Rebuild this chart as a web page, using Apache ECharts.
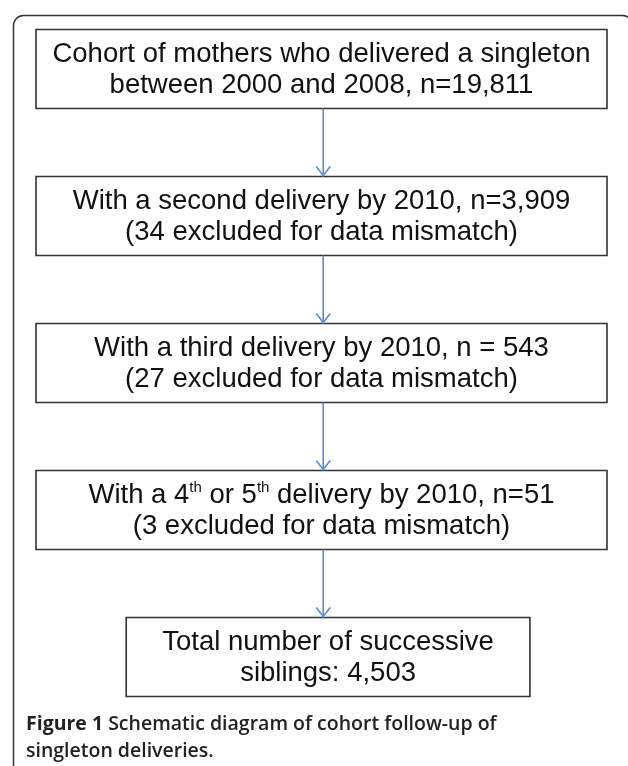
<!DOCTYPE html>
<html>
<head>
<meta charset="utf-8">
<script src="https://cdn.jsdelivr.net/npm/echarts@6/dist/echarts.min.js"></script>
<style>
html,body{margin:0;padding:0;background:#fff;}
#main{width:628px;height:766px;}
</style>
</head>
<body>
<div id="main"></div>
<script>
// ---- data ----
const stepNames = ['Cohort', 'Second delivery', 'Third delivery', 'Fourth or fifth delivery', 'Total'];
const stepLine1 = [
  'Cohort of mothers who delivered a singleton',
  'With a second delivery by 2010, n=3,909',
  'With a third delivery by 2010, n = 543',
  'With a 4{sup|th} or 5{sup|th} delivery by 2010, n=51',
  'Total number of successive'
];
const stepLine2 = [
  'between 2000 and 2008, n=19,811',
  '(34 excluded for data mismatch)',
  '(27 excluded for data mismatch)',
  '(3 excluded for data mismatch)',
  'siblings: 4,503'
];
const captionBold = 'Figure 1';
const captionText = ' Schematic diagram of cohort follow-up of\nsingleton deliveries.';

// ---- chart ----
const chart = echarts.init(document.getElementById('main'), null, {renderer: 'canvas'});
const BOX_H = 79;
const ARROW_X = 50.3;
const ARROW_COLOR = '#5b8bd2';

function renderItem(params, api) {
  const idx = params.dataIndex;
  const last = idx === stepNames.length - 1;
  const x0 = last ? 15.8 : 0;
  const x1 = last ? 86.5 : 100;
  const pL = api.coord([x0, idx]);
  const pR = api.coord([x1, idx]);
  const yc = pL[1];
  const left = pL[0], right = pR[0];
  const children = [
    {
      type: 'rect',
      shape: {x: left, y: yc - BOX_H / 2, width: right - left, height: BOX_H},
      style: {fill: '#fff', stroke: '#333', lineWidth: 1.6}
    },
    {
      type: 'text',
      x: (left + right) / 2,
      y: yc + 1,
      style: {
        text: stepLine1[idx] + '\n' + stepLine2[idx],
        fontFamily: 'Liberation Sans',
        fontSize: 27.5,
        lineHeight: 31,
        fill: '#111',
        align: 'center',
        verticalAlign: 'middle',
        rich: {
          sup: {fontFamily: 'Liberation Sans', fontSize: 15, lineHeight: 18, verticalAlign: 'top', fill: '#111'}
        }
      }
    }
  ];
  if (idx > 0) {
    const prev = api.coord([ARROW_X, idx - 1]);
    const cur = api.coord([ARROW_X, idx]);
    const ax = cur[0];
    const yTop = prev[1] + BOX_H / 2;
    const yEnd = cur[1] - BOX_H / 2;
    children.push({
      type: 'line',
      shape: {x1: ax, y1: yTop, x2: ax, y2: yEnd},
      style: {stroke: ARROW_COLOR, lineWidth: 1.6}
    });
    children.push({
      type: 'polyline',
      shape: {points: [[ax - 7, yEnd - 10], [ax, yEnd - 1], [ax + 7, yEnd - 10]]},
      style: {stroke: ARROW_COLOR, lineWidth: 1.6, fill: 'none'}
    });
  }
  return {type: 'group', children: children};
}

chart.setOption({
  animation: false,
  backgroundColor: '#fff',
  title: {
    text: '{b|' + captionBold + '}' + captionText,
    left: 26,
    top: 711,
    padding: 0,
    textStyle: {
      fontFamily: 'Open Sans',
      fontSize: 19.5,
      fontWeight: 600,
      lineHeight: 27,
      color: '#222',
      rich: {
        b: {fontFamily: 'Open Sans', fontSize: 19.5, fontWeight: 'bold', color: '#222', lineHeight: 27}
      }
    }
  },
  graphic: [{
    type: 'rect',
    left: 11,
    top: 13,
    shape: {width: 619, height: 800, r: 10},
    style: {fill: 'none', stroke: '#333', lineWidth: 1.5},
    z: -1
  }],
  grid: {left: 36, right: 21, top: 69, bottom: 109},
  xAxis: {type: 'value', min: 0, max: 100, show: false},
  yAxis: {type: 'category', data: stepNames, inverse: true, boundaryGap: false, show: false},
  series: [{
    type: 'custom',
    renderItem: renderItem,
    data: stepNames.map((n, i) => [ARROW_X, i]),
    encode: {x: 0, y: 1},
    clip: false
  }]
});
</script>
</body>
</html>
